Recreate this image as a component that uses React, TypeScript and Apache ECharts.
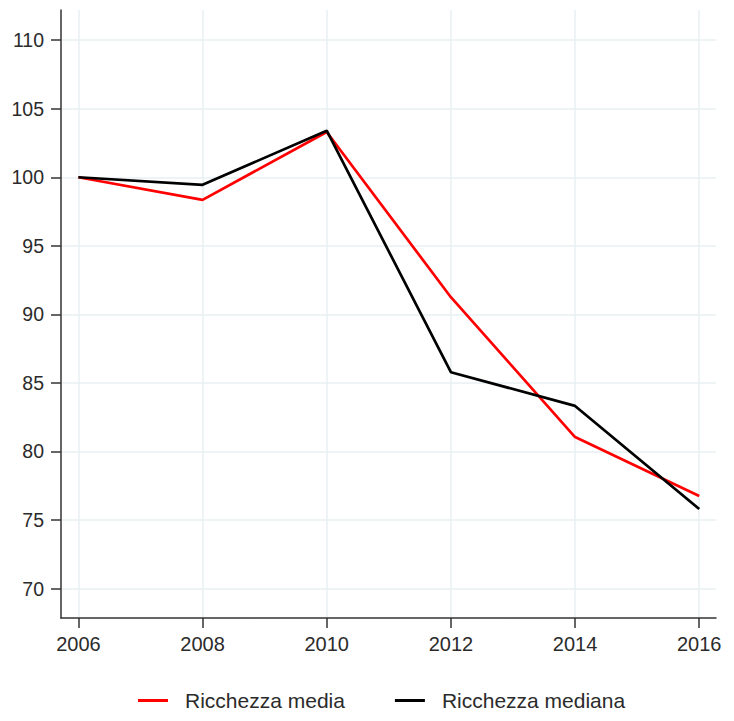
import React, { useEffect, useRef } from "react";
import * as echarts from "echarts";

const years = [2006, 2008, 2010, 2012, 2014, 2016];
const ricchezzaMedia = [100, 98.35, 103.3, 91.25, 81.05, 76.75];
const ricchezzaMediana = [100, 99.45, 103.4, 85.78, 83.32, 75.8];
const yTicks = [70, 75, 80, 85, 90, 95, 100, 105, 110];
const seriesNames = ["Ricchezza media", "Ricchezza mediana"];

const FONT = "'Liberation Sans', Arial, Helvetica, sans-serif";
const TEXT = "#2b2b2b";
const GRID = "#e9f1f2";

export default function App() {
  const ref = useRef<HTMLDivElement>(null);
  useEffect(() => {
    if (!ref.current) return;
    const chart = echarts.init(ref.current, null, { renderer: "svg" });
    const pair = (vals: number[]) => years.map((y, i) => [y, vals[i]]);
    chart.setOption({
      animation: false,
      backgroundColor: "#ffffff",
      textStyle: { fontFamily: FONT },
      grid: { left: 61, right: 18, top: 10, bottom: 103, containLabel: false },
      xAxis: {
        type: "value",
        min: 2005.72,
        max: 2016.27,
        axisLine: { show: true, lineStyle: { color: "#333", width: 1.5 } },
        axisTick: { show: true, length: 10, lineStyle: { color: "#333", width: 1.5 }, customValues: years },
        axisLabel: { customValues: years, color: TEXT, fontSize: 20, margin: 16, fontFamily: FONT, formatter: (v: number) => String(v) },
        splitLine: { show: true, lineStyle: { color: GRID, width: 1.5 } },
      },
      yAxis: {
        type: "value",
        min: 67.85,
        max: 112.2,
        axisLine: { show: true, lineStyle: { color: "#333", width: 1.5 } },
        axisTick: { show: true, length: 10, lineStyle: { color: "#333", width: 1.5 }, customValues: yTicks },
        axisLabel: { customValues: yTicks, color: TEXT, fontSize: 19.5, margin: 17, fontFamily: FONT },
        splitLine: { show: true, lineStyle: { color: GRID, width: 1.5 } },
      },
      legend: {
        left: 133,
        top: 685,
        icon: "rect",
        itemWidth: 30,
        itemHeight: 3,
        itemGap: 50,
        textStyle: { color: TEXT, fontSize: 21, fontFamily: FONT, padding: [0, 0, 0, 12] },
        data: seriesNames,
      },
      series: [
        {
          name: seriesNames[0],
          type: "line",
          data: pair(ricchezzaMedia),
          symbol: "none",
          lineStyle: { color: "#ff0000", width: 2.7 },
          itemStyle: { color: "#ff0000" },
          z: 2,
        },
        {
          name: seriesNames[1],
          type: "line",
          data: pair(ricchezzaMediana),
          symbol: "none",
          lineStyle: { color: "#000000", width: 2.7 },
          itemStyle: { color: "#000000" },
          z: 3,
        },
      ],
    });
    return () => chart.dispose();
  }, []);
  return (
    <div
      ref={ref}
      style={{ position: "absolute", left: 0, top: 0, width: 734, height: 721 }}
    />
  );
}
